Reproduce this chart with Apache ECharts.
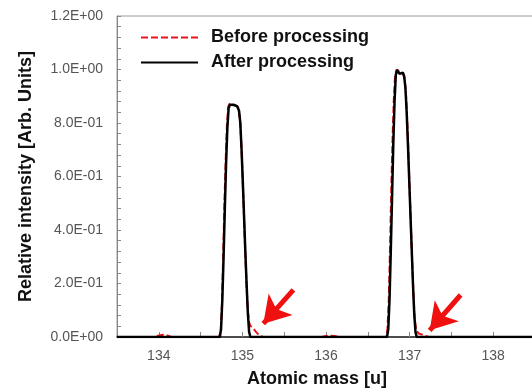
<!DOCTYPE html>
<html>
<head>
<meta charset="utf-8">
<script src="https://cdn.jsdelivr.net/npm/echarts@6.0.0/dist/echarts.min.js"></script>
<style>
  html, body { margin: 0; padding: 0; background: #fff; }
  #main { width: 532px; height: 389px; }
</style>
</head>
<body>
<div id="main"></div>
<script>
// Before processing (red dashed)
var beforeMass = [133.5, 133.95, 134.0, 134.05, 134.1, 134.15, 134.5,
  134.72, 134.74, 134.755, 134.77, 134.785, 134.80, 134.815, 134.83, 134.845, 134.87, 134.90, 134.93,
  134.955, 134.975, 134.99, 135.005, 135.02, 135.035, 135.05, 135.065, 135.08, 135.10, 135.13, 135.16,
  135.19, 135.22, 135.25, 135.6, 135.95, 136.0, 136.05, 136.1, 136.15, 136.5,
  136.72, 136.735, 136.75, 136.765, 136.78, 136.795, 136.81, 136.825, 136.845, 136.86, 136.88, 136.90,
  136.92, 136.94, 136.955, 136.97, 136.985, 137.0, 137.015, 137.03, 137.045, 137.06, 137.08, 137.11,
  137.15, 137.19, 137.23, 137.6, 138.5];
var beforeIntensity = [0, 0, 0.006, 0.008, 0.006, 0, 0,
  0, 0.02, 0.12, 0.30, 0.50, 0.66, 0.79, 0.86, 0.872, 0.87, 0.868, 0.865,
  0.85, 0.80, 0.70, 0.57, 0.44, 0.31, 0.19, 0.10, 0.055, 0.04, 0.032, 0.02,
  0.01, 0.003, 0, 0, 0, 0.004, 0.005, 0.004, 0, 0,
  0, 0.03, 0.13, 0.32, 0.54, 0.73, 0.88, 0.97, 1.0, 0.996, 0.99, 0.99,
  0.986, 0.965, 0.92, 0.82, 0.70, 0.56, 0.42, 0.29, 0.17, 0.07, 0.025, 0.013,
  0.009, 0.004, 0, 0, 0];

// After processing (black solid)
var afterMass = [133.5, 134.73, 134.745, 134.76, 134.775, 134.79, 134.805, 134.82, 134.835, 134.85,
  134.88, 134.91, 134.94, 134.96, 134.975, 134.99, 135.005, 135.02, 135.035, 135.05, 135.065, 135.08,
  135.095, 136.73, 136.745, 136.76, 136.775, 136.79, 136.805, 136.82, 136.835, 136.85, 136.865, 136.88,
  136.90, 136.92, 136.935, 136.95, 136.965, 136.98, 136.995, 137.01, 137.025, 137.04, 137.055, 137.07,
  137.085, 138.5];
var afterIntensity = [0, 0, 0.03, 0.14, 0.30, 0.48, 0.65, 0.78, 0.855, 0.868,
  0.868, 0.866, 0.862, 0.845, 0.80, 0.70, 0.58, 0.45, 0.32, 0.20, 0.09, 0.02,
  0, 0, 0.03, 0.14, 0.32, 0.52, 0.72, 0.88, 0.98, 0.998, 0.993, 0.984,
  0.99, 0.988, 0.975, 0.93, 0.84, 0.72, 0.59, 0.46, 0.33, 0.20, 0.09, 0.02,
  0, 0];

// red annotation arrows [x, y] in data units
var arrowFrom = [[135.61, 0.176], [137.61, 0.157]];
var arrowTo = [[135.25, 0.05], [137.24, 0.025]];

function zip(xs, ys) {
  var out = [];
  for (var i = 0; i < xs.length; i++) out.push([xs[i], ys[i]]);
  return out;
}

function sci(v) {
  if (Math.abs(v) < 1e-9) return '0.0E+00';
  var e = Math.floor(Math.log10(v) + 1e-9);
  var m = v / Math.pow(10, e);
  return m.toFixed(1) + 'E' + (e < 0 ? '-' : '+') + String(Math.abs(e)).padStart(2, '0');
}

var arrowLines = [];
for (var i = 0; i < arrowFrom.length; i++) {
  arrowLines.push([{coord: arrowFrom[i]}, {coord: arrowTo[i]}]);
}

var chart = echarts.init(document.getElementById('main'));
var font = 'Liberation Sans, Arial, sans-serif';
chart.setOption({
  animation: false,
  grid: {
    left: 117, top: 16, width: 418, height: 321,
    outerBoundsMode: 'none',
    show: true, borderColor: '#9a9a9a', borderWidth: 1
  },
  legend: {
    orient: 'vertical',
    left: 135, top: 22,
    itemWidth: 57, itemHeight: 14, itemGap: 4,
    itemStyle: { opacity: 0 },
    textStyle: { fontFamily: font, fontSize: 18, fontWeight: 'bold', color: '#111', padding: [0, 0, 0, 8], lineHeight: 21 },
    data: ['Before processing', 'After processing']
  },
  xAxis: {
    type: 'value',
    min: 133.5, max: 138.5, interval: 0.5,
    name: 'Atomic mass [u]',
    nameLocation: 'middle', nameGap: 33,
    nameTextStyle: { fontFamily: font, fontSize: 18, fontWeight: 'bold', color: '#111', padding: [0, 18, 0, 0] },
    axisLine: { show: true, lineStyle: { color: '#222', width: 1.5 } },
    axisTick: { show: true, inside: true, length: 5, lineStyle: { color: '#888' } },
    axisLabel: {
      fontFamily: font, fontSize: 14, color: '#555', margin: 12,
      formatter: function (v) { return Math.abs(v - Math.round(v)) < 1e-6 ? String(Math.round(v)) : ''; }
    },
    splitLine: { show: false }
  },
  yAxis: {
    type: 'value',
    min: 0, max: 1.2, interval: 0.2,
    name: 'Relative intensity [Arb. Units]',
    nameLocation: 'middle', nameGap: 82,
    nameTextStyle: { fontFamily: font, fontSize: 18, fontWeight: 'bold', color: '#111' },
    axisLine: { show: true, lineStyle: { color: '#888', width: 1 } },
    axisTick: { show: true, inside: true, length: 4, lineStyle: { color: '#888' } },
    minorTick: { show: true, splitNumber: 5, length: 4, lineStyle: { color: '#888' } },
    axisLabel: { fontFamily: font, fontSize: 14, color: '#555', margin: 14, formatter: sci },
    splitLine: { show: false }
  },
  series: [
    {
      name: 'Before processing',
      type: 'line',
      symbol: 'none',
      data: zip(beforeMass, beforeIntensity),
      lineStyle: { color: '#e8141c', width: 2, type: [7, 3] },
      itemStyle: { color: '#e8141c' },
      z: 2,
      markLine: {
        silent: true,
        symbol: ['none', 'arrow'],
        symbolSize: [24, 26],
        label: { show: false },
        lineStyle: { color: '#f01010', width: 5, type: 'solid' },
        data: arrowLines
      }
    },
    {
      name: 'After processing',
      type: 'line',
      symbol: 'none',
      data: zip(afterMass, afterIntensity),
      lineStyle: { color: '#000', width: 2.5 },
      itemStyle: { color: '#000' },
      z: 3
    }
  ]
});
</script>
</body>
</html>
